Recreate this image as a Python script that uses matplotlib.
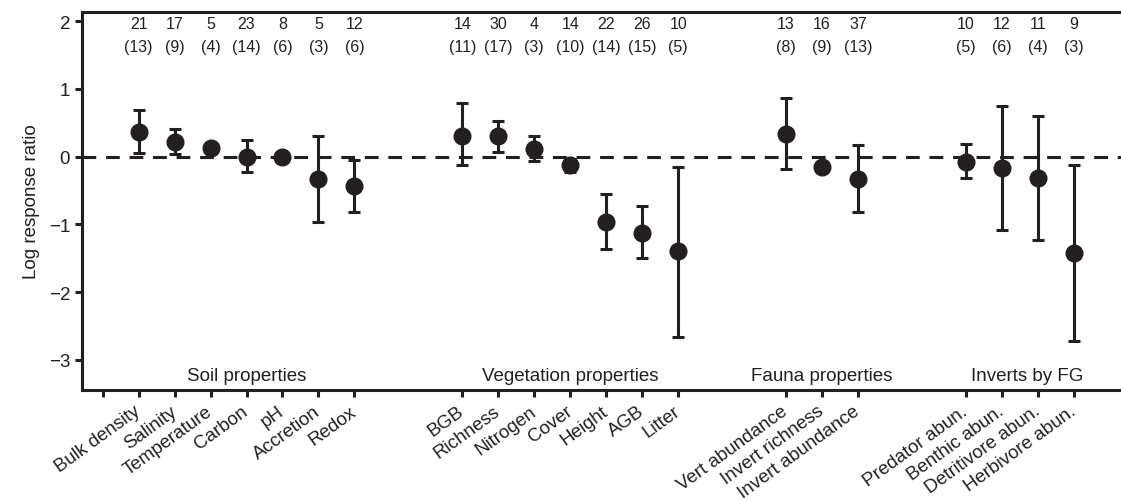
import matplotlib
matplotlib.use("Agg")
import matplotlib.pyplot as plt
import numpy as np

plt.rcParams["font.family"] = ["Liberation Sans", "DejaVu Sans"]

# Response categories and their slot on the x axis (gaps separate the groups)
labels = ["Bulk density", "Salinity", "Temperature", "Carbon", "pH", "Accretion", "Redox",
          "BGB", "Richness", "Nitrogen", "Cover", "Height", "AGB", "Litter",
          "Vert abundance", "Invert richness", "Invert abundance",
          "Predator abun.", "Benthic abun.", "Detritivore abun.", "Herbivore abun."]
positions = [1, 2, 3, 4, 5, 6, 7,
             10, 11, 12, 13, 14, 15, 16,
             19, 20, 21,
             24, 25, 26, 27]

mean = [0.37, 0.21, 0.13, 0.00, 0.00, -0.33, -0.44,
        0.31, 0.30, 0.11, -0.13, -0.96, -1.12, -1.40,
        0.335, -0.16, -0.33,
        -0.08, -0.17, -0.32, -1.42]
upper = [0.69, 0.41, 0.17, 0.25, 0.04, 0.31, -0.05,
         0.79, 0.53, 0.30, -0.03, -0.55, -0.73, -0.16,
         0.86, -0.10, 0.17,
         0.18, 0.74, 0.60, -0.13]
lower = [0.055, 0.035, 0.09, -0.22, -0.04, -0.97, -0.82,
         -0.13, 0.065, -0.06, -0.22, -1.36, -1.50, -2.66,
         -0.19, -0.22, -0.81,
         -0.32, -1.08, -1.23, -2.72]

n_obs = [21, 17, 5, 23, 8, 5, 12,
         14, 30, 4, 14, 22, 26, 10,
         13, 16, 37,
         10, 12, 11, 9]
n_studies = [13, 9, 4, 14, 6, 3, 6,
             11, 17, 3, 10, 14, 15, 5,
             8, 9, 13,
             5, 6, 4, 3]

groups = ["Soil properties", "Vegetation properties", "Fauna properties", "Inverts by FG"]
group_centers = [4, 13, 20, 25.7]

ink = "#231f20"

fig = plt.figure(figsize=(11.21, 5.02), dpi=100)
ax = fig.add_axes([0.0731, 0.2217, 0.9269, 0.7518])

mean_a = np.array(mean)
yerr = np.vstack([mean_a - np.array(lower), np.array(upper) - mean_a])
ax.axhline(0, color=ink, linestyle=(0, (4.5, 3.2)), linewidth=2.2, zorder=1)
ax.errorbar(positions, mean, yerr=yerr, fmt="o", color=ink, ecolor=ink,
            markersize=12, elinewidth=2.2, capsize=4.5, capthick=2.2, zorder=3)

for x, n, s in zip(positions, n_obs, n_studies):
    ax.text(x, 1.96, str(n), ha="center", va="center", fontsize=11.5, color=ink)
    ax.text(x, 1.625, f"({s})", ha="center", va="center", fontsize=11.5, color=ink)

for name, cx in zip(groups, group_centers):
    ax.text(cx, -3.23, name, ha="center", va="center", fontsize=13.5, color=ink)

ax.set_xlim(-0.575, 28.31)
ax.set_ylim(-3.44, 2.13)
ax.set_xticks([0] + positions)
ax.set_xticklabels([""] + labels, rotation=36, ha="right", rotation_mode="anchor",
                   va="center", fontsize=13.5, color=ink)
ax.set_yticks([-3, -2, -1, 0, 1, 2])
ax.set_yticklabels(["\u22123", "\u22122", "\u22121", "0", "1", "2"], fontsize=13.5, color=ink)
ax.set_ylabel("Log response ratio", fontsize=13.5, color=ink, labelpad=6)
ax.tick_params(axis="both", direction="out", length=5, width=2.2, color=ink)
ax.tick_params(axis="x", pad=9)
ax.spines["right"].set_visible(False)
for side in ["left", "top", "bottom"]:
    ax.spines[side].set_linewidth(2.2)
    ax.spines[side].set_color(ink)

fig.savefig("out.png", dpi=100)
